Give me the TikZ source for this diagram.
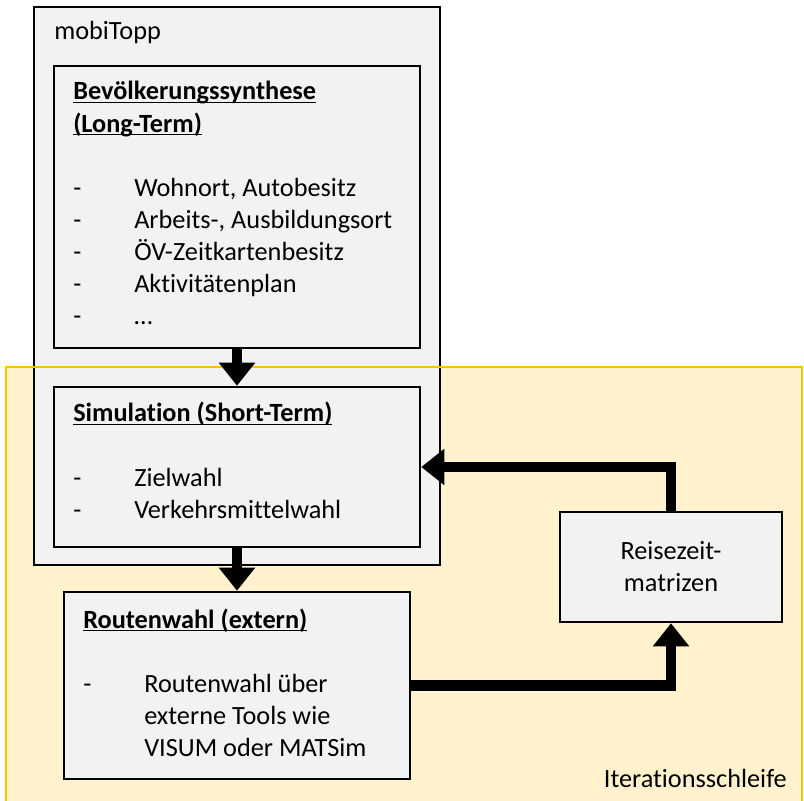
\documentclass[tikz,border=0pt]{standalone}
\usepackage{fontspec}
\setmainfont{Carlito}[Ligatures=NoCommon]
\usepackage{tikz}
\usepackage{xcolor}
\usetikzlibrary{arrows.meta,positioning,calc}
\definecolor{boxGray}{RGB}{242,242,242}
\definecolor{loopYellow}{RGB}{255,242,204}
\definecolor{loopOrange}{RGB}{255,192,0}
\newsavebox{\titlebox}
\newcommand{\ultitle}[1]{\sbox{\titlebox}{\textbf{#1}}\rlap{\rule[-2.4pt]{\wd\titlebox}{0.9pt}}\usebox{\titlebox}}

\begin{document}
\begin{tikzpicture}[font=\fontsize{18.7}{22.8}\selectfont,
    box/.style={draw, line width=1.8pt, fill=boxGray, inner sep=0pt},
    flow/.style={line width=0.27cm, line join=miter, -{Triangle[length=0.58cm,width=0.88cm]}}]
    \useasboundingbox (0,0) rectangle (20.1,20);
    \fill[loopYellow] (0.15,-0.5) rectangle (20.05,10.825);
    \node[box, minimum width=10.15cm, minimum height=13.95cm] (M) at (5.925,12.85) {};
    \draw[loopOrange, line width=1.4pt] (0.15,-0.5) rectangle (20.05,10.825);
    \node[anchor=base west, inner sep=0pt] (L) at (1.35,19.0) {mobiTopp};

    \node[box, minimum width=9.15cm, minimum height=7.05cm] (B) at (5.925,14.825) {};
    \node[anchor=base west, inner sep=0pt] (Bt) at (1.825,17.5) {\begin{tabular}[t]{@{}p{1.525cm}@{}l@{}}
        \multicolumn{2}{@{}l@{}}{\ultitle{Bevölkerungssynthese}}\\
        \multicolumn{2}{@{}l@{}}{\ultitle{(Long-Term)}}\\
        & \\
        - & Wohnort, Autobesitz\\
        - & Arbeits-, Ausbildungsort\\
        - & ÖV-Zeitkartenbesitz\\
        - & Aktivitätenplan\\
        - & …
    \end{tabular}};

    \node[box, minimum width=9.15cm, minimum height=4cm] (S) at (5.925,8.325) {};
    \node[anchor=base west, inner sep=0pt] (St) at (1.825,9.45) {\begin{tabular}[t]{@{}p{1.525cm}@{}l@{}}
        \multicolumn{2}{@{}l@{}}{\ultitle{Simulation (Short-Term)}}\\
        & \\
        - & Zielwahl\\
        - & Verkehrsmittelwahl
    \end{tabular}};

    \node[box, minimum width=8.65cm, minimum height=4.675cm] (R) at (5.925,2.8625) {};
    \node[anchor=base west, inner sep=0pt] (Rt) at (2.075,4.3) {\begin{tabular}[t]{@{}p{1.525cm}@{}l@{}}
        \multicolumn{2}{@{}l@{}}{\ultitle{Routenwahl (extern)}}\\
        & \\
        - & Routenwahl über\\
        & externe Tools wie\\
        & VISUM oder MATSim
    \end{tabular}};

    \node[box, minimum width=5.55cm, minimum height=2.75cm, align=center] (T) at (16.775,5.825) {Reisezeit-\\matrizen};
    \node[anchor=base east, inner sep=0pt] (I) at (19.675,0.325) {Iterationsschleife};

    \draw[flow] (B) -- (S);
    \draw[flow] (S) -- (R);
    \draw[flow] (T.north) |- (S.east);
    \draw[flow] (R.east) -| (T.south);
\end{tikzpicture}
\end{document}
